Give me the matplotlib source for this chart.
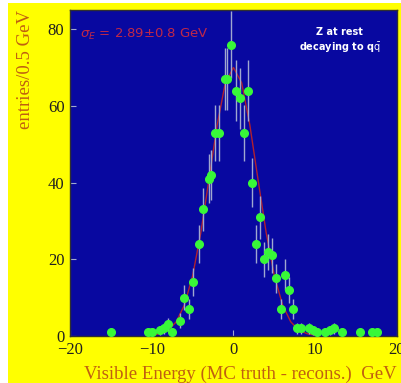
import matplotlib.pyplot as plt
from matplotlib.patches import Rectangle

# measured points (bin centre in GeV, entries per 0.5 GeV, error)
e_vis = [-15.0, -10.5, -10.0, -9.0, -8.5, -8.0, -7.5, -6.5, -6.0, -5.5, -5.0,
         -4.25, -3.75, -3.0, -2.75, -2.25, -1.75, -1.0, -0.75, -0.25, 0.25,
         0.75, 1.25, 1.75, 2.25, 2.75, 3.25, 3.75, 4.25, 4.75, 5.25, 5.75,
         6.25, 6.75, 7.25, 7.75, 8.25, 9.25, 9.75, 10.25, 11.25, 11.75, 12.25,
         13.25, 15.5, 17.0, 17.5]
entries = [1, 1, 1, 1.5, 2, 3, 1, 4, 10, 7, 14,
           24, 33, 41, 42, 53, 53, 67, 67, 76, 64,
           62, 53, 64, 40, 24, 31, 20, 22, 21, 15, 7,
           16, 12, 7, 2, 2, 2, 1.5, 1, 1, 1.5, 2,
           1, 1, 1, 1]
errors = [1.0, 1.0, 1.0, 1.2, 1.4, 1.7, 1.0, 2.0, 3.2, 2.6, 3.7,
          4.9, 5.7, 6.4, 6.5, 7.3, 7.3, 8.2, 8.2, 8.7, 8.0,
          7.9, 7.3, 8.0, 6.3, 4.9, 5.6, 4.5, 4.7, 4.6, 3.9, 2.6,
          4.0, 3.5, 2.6, 1.4, 1.4, 1.4, 1.2, 1.0, 1.0, 1.2, 1.4,
          1.0, 1.0, 1.0, 1.0]

# fitted curve
fit_x = [-10, -9, -8, -7, -6, -5, -4, -3, -2, -1, 0, 1, 2, 3, 4, 5, 6, 7, 8, 9, 10]
fit_y = [0.2, 0.6, 1.5, 3.7, 8.1, 15.7, 26.9, 40.8, 55.0, 66.0, 70.0, 66.0,
         55.0, 40.8, 26.9, 15.7, 8.1, 3.7, 1.5, 0.6, 0.2]

fig = plt.figure(figsize=(4.02, 3.83), dpi=100, facecolor="white")
fig.patches.append(Rectangle((8 / 402, 0), 1, 1 - 3 / 383, transform=fig.transFigure,
                             facecolor="#ffff00", edgecolor="none", zorder=-10))

ax = fig.add_axes([70 / 402, 47 / 383, 327 / 402, 326 / 383])
ax.set_facecolor("#0808a0")

ax.plot(fit_x, fit_y, color="#b02030", lw=1.0, zorder=2)
ax.errorbar(e_vis, entries, yerr=errors, fmt="o", color="#38f838", ms=5.5,
            mec="#38f838", ecolor="#a0a8d0", elinewidth=1.0, capsize=0, zorder=3)

ax.set_xlim(-20, 20)
ax.set_ylim(0, 85)
ax.set_xticks([-20, -10, 0, 10, 20])
ax.set_yticks([0, 20, 40, 60, 80])
ax.tick_params(direction="in", length=4, color="#a0a8d0", labelsize=12, pad=4)
for lab in ax.get_xticklabels() + ax.get_yticklabels():
    lab.set_family("Liberation Serif")
    lab.set_color("#202020")
for s in ax.spines.values():
    s.set_color("#303030")
    s.set_linewidth(1.0)

ax.set_xlabel("Visible Energy (MC truth - recons.)  GeV", family="Liberation Serif",
              fontsize=13.5, color="#c06010", loc="right", labelpad=6)
ax.set_ylabel("entries/0.5 GeV", family="Liberation Serif", fontsize=13.5,
              color="#c06010", loc="top", labelpad=10)

ax.text(-18.8, 78.5, r"$\sigma_E$ = 2.89$\pm$0.8 GeV", color="#c02848", fontsize=9.5,
        ha="left", va="center")
ax.text(13.0, 77, "Z at rest\ndecaying to q$\\bar{\\mathrm{q}}$", color="white",
        fontsize=7, fontweight="bold", ha="center", va="center", linespacing=1.4)

plt.savefig("out.png", dpi=100, facecolor=fig.get_facecolor())
